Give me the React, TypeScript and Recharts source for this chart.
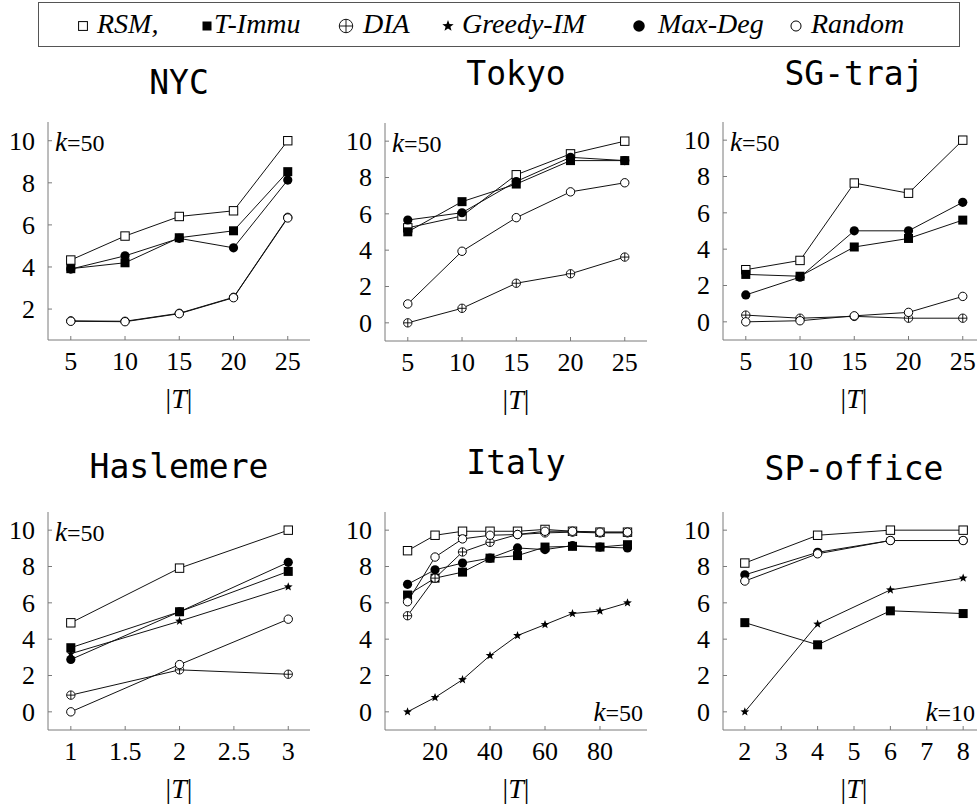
import React from "react";
import { LineChart, Line, XAxis, YAxis } from "recharts";

// ---- data ----
const nycT = [5, 10, 15, 20, 25];
const nycRSM = [4.33, 5.47, 6.4, 6.67, 10.0];
const nycTImmu = [3.92, 4.2, 5.39, 5.72, 8.53];
const nycDIA = [1.44, 1.42, 1.8, 2.56, 6.36];
const nycMaxDeg = [3.9, 4.53, 5.36, 4.91, 8.13];
const nycRandom = [1.42, 1.4, 1.78, 2.54, 6.33];

const tokyoT = [5, 10, 15, 20, 25];
const tokyoRSM = [5.23, 5.88, 8.15, 9.3, 10.0];
const tokyoTImmu = [5.01, 6.67, 7.64, 8.93, 8.93];
const tokyoDIA = [0, 0.8, 2.18, 2.7, 3.62];
const tokyoMaxDeg = [5.66, 6.06, 7.78, 9.11, 8.93];
const tokyoRandom = [1.04, 3.94, 5.79, 7.21, 7.71];

const sgT = [5, 10, 15, 20, 25];
const sgRSM = [2.87, 3.38, 7.64, 7.08, 10.0];
const sgTImmu = [2.61, 2.51, 4.12, 4.59, 5.6];
const sgDIA = [0.37, 0.2, 0.3, 0.2, 0.2];
const sgMaxDeg = [1.48, 2.46, 5.01, 5.01, 6.58];
const sgRandom = [0, 0.06, 0.33, 0.52, 1.4];

const hasT = [1, 2, 3];
const hasRSM = [4.9, 7.91, 10.0];
const hasTImmu = [3.53, 5.51, 7.73];
const hasDIA = [0.92, 2.31, 2.07];
const hasGreedy = [3.2, 4.99, 6.88];
const hasMaxDeg = [2.88, 5.51, 8.23];
const hasRandom = [0, 2.6, 5.1];

const itT = [10, 20, 30, 40, 50, 60, 70, 80, 90];
const itRSM = [8.87, 9.72, 9.94, 9.94, 9.94, 10.04, 9.94, 9.89, 9.89];
const itTImmu = [6.43, 7.36, 7.69, 8.46, 8.6, 9.07, 9.11, 9.07, 9.2];
const itDIA = [5.29, 7.36, 8.8, 9.33, 9.76, 9.85, 9.89, 9.85, 9.85];
const itGreedy = [0, 0.79, 1.77, 3.1, 4.2, 4.8, 5.41, 5.55, 6.0];
const itMaxDeg = [7.02, 7.82, 8.19, 8.46, 9.02, 8.93, 9.15, 9.07, 9.02];
const itRandom = [6.06, 8.52, 9.52, 9.72, 9.76, 9.94, 9.94, 9.89, 9.89];

const spT = [2, 4, 6, 8];
const spRSM = [8.19, 9.72, 10.0, 10.0];
const spTImmu = [4.91, 3.69, 5.56, 5.41];
const spGreedy = [0, 4.83, 6.71, 7.36];
const spMaxDeg = [7.54, 8.78, 9.43, 9.43];
const spRandom = [7.2, 8.7, 9.43, 9.43];

const xTicksA = [5, 10, 15, 20, 25];
const xTicksHas = [1, 1.5, 2, 2.5, 3];
const xTicksIt = [20, 40, 60, 80];
const xTicksSp = [2, 3, 4, 5, 6, 7, 8];
const yTicksNyc = [2, 4, 6, 8, 10];
const yTicks = [0, 2, 4, 6, 8, 10];

const legendNames = ["RSM,", "T-Immu", "DIA", "Greedy-IM", "Max-Deg", "Random"];

type Kind = "rsm" | "timmu" | "dia" | "greedy" | "maxdeg" | "random";
const kinds: Kind[] = ["rsm", "timmu", "dia", "greedy", "maxdeg", "random"];

const SERIF = "'Liberation Serif', serif";
const AXIS = "#7a7a7a";

function starPath(cx: number, cy: number, r: number) {
  const pts: string[] = [];
  for (let i = 0; i < 10; i++) {
    const rr = i % 2 === 0 ? r : r * 0.42;
    const a = -Math.PI / 2 + (i * Math.PI) / 5;
    pts.push(`${cx + rr * Math.cos(a)},${cy + rr * Math.sin(a)}`);
  }
  return "M" + pts.join("L") + "Z";
}

function Marker({ kind, cx, cy, s = 1 }: { kind: Kind; cx: number; cy: number; s?: number }) {
  if (cx == null || cy == null) return null;
  switch (kind) {
    case "rsm":
      return <rect x={cx - 4.2 * s} y={cy - 4.2 * s} width={8.4 * s} height={8.4 * s} fill="#fff" stroke="#000" strokeWidth={1} />;
    case "timmu":
      return <rect x={cx - 4.5 * s} y={cy - 4.5 * s} width={9 * s} height={9 * s} fill="#000" />;
    case "dia":
      return (
        <g>
          <circle cx={cx} cy={cy} r={4.2 * s} fill="#fff" stroke="#000" strokeWidth={0.9} />
          <line x1={cx - 4.2 * s} x2={cx + 4.2 * s} y1={cy} y2={cy} stroke="#000" strokeWidth={0.9} />
          <line x1={cx} x2={cx} y1={cy - 4.2 * s} y2={cy + 4.2 * s} stroke="#000" strokeWidth={0.9} />
        </g>
      );
    case "greedy":
      return <path d={starPath(cx, cy, 4.6 * s)} fill="#000" />;
    case "maxdeg":
      return <circle cx={cx} cy={cy} r={4.6 * s} fill="#000" />;
    default:
      return <circle cx={cx} cy={cy} r={4.2 * s} fill="#fff" stroke="#000" strokeWidth={1} />;
  }
}

function XTick(props: any) {
  const { x, y, payload } = props;
  return (
    <text x={x} y={y} dy="0.72em" textAnchor="middle" fill="#000" style={{ fontFamily: SERIF, fontSize: 26 }}>
      {payload.value}
    </text>
  );
}

function YTick(props: any) {
  const { x, y, payload } = props;
  return (
    <text x={x} y={y} dy="0.34em" textAnchor="end" fill="#000" style={{ fontFamily: SERIF, fontSize: 26 }}>
      {payload.value}
    </text>
  );
}

type PanelProps = {
  title: string;
  titleTop: number;
  plotLeft: number;
  plotTop: number;
  xs: number[];
  values: (number[] | null)[];
  xDomain: [number, number];
  xTicks: number[];
  yDomain: [number, number];
  yTicks: number[];
  kText: string;
  kCorner: "tl" | "br";
  kRight?: number;
};

const PW = 262;
const PH = 218;
const ML = 60;
const MT = 10;
const MR = 20;
const XH = 50;

function Panel(p: PanelProps) {
  const rows = p.xs.map((t, i) => {
    const r: Record<string, number> = { t };
    kinds.forEach((k, j) => {
      const v = p.values[j];
      if (v) r[k] = v[i];
    });
    return r;
  });
  const noLabel = () => <g />;
  const kRight = p.kRight ?? p.plotLeft + PW - 4;
  return (
    <>
      <div
        style={{
          position: "absolute",
          left: p.plotLeft - 60,
          width: PW + 120,
          top: p.titleTop,
          textAlign: "center",
          fontFamily: "'DejaVu Sans Mono', monospace",
          fontSize: 33,
          lineHeight: "33px",
          color: "#000",
        }}
      >
        {p.title}
      </div>
      <div style={{ position: "absolute", left: p.plotLeft - ML, top: p.plotTop - MT }}>
        <LineChart
          width={ML + PW + MR}
          height={MT + PH + XH}
          data={rows}
          margin={{ top: MT, right: MR, left: 0, bottom: 0 }}
        >
          <XAxis
            xAxisId="b"
            dataKey="t"
            type="number"
            domain={p.xDomain}
            ticks={p.xTicks}
            allowDataOverflow
            height={XH}
            stroke={AXIS}
            tickSize={-4}
            tickMargin={15}
            tick={<XTick />}
            interval={0}
          />
          <XAxis
            xAxisId="top"
            dataKey="t"
            type="number"
            orientation="top"
            domain={p.xDomain}
            ticks={p.xTicks}
            allowDataOverflow
            height={0}
            stroke={AXIS}
            tickSize={-4}
            tick={noLabel}
            interval={0}
          />
          <YAxis
            yAxisId="l"
            type="number"
            domain={p.yDomain}
            ticks={p.yTicks}
            allowDataOverflow
            width={ML}
            stroke={AXIS}
            tickSize={-4}
            tickMargin={17}
            tick={<YTick />}
            interval={0}
          />
          <YAxis
            yAxisId="r"
            type="number"
            orientation="right"
            domain={p.yDomain}
            ticks={p.yTicks}
            allowDataOverflow
            width={0}
            stroke={AXIS}
            tickSize={-4}
            tick={noLabel}
            interval={0}
          />
          {kinds.map((k, j) =>
            p.values[j] ? (
              <Line
                key={k}
                xAxisId="b"
                yAxisId="l"
                dataKey={k}
                stroke="#111"
                strokeWidth={1}
                isAnimationActive={false}
                dot={(d: any) => (
                  <g key={`${k}-${d.index}`}>
                    <Marker kind={k} cx={d.cx} cy={d.cy} />
                  </g>
                )}
                activeDot={false}
              />
            ) : null
          )}
        </LineChart>
      </div>
      <div
        style={{
          position: "absolute",
          left: p.plotLeft,
          width: PW,
          top: p.plotTop + PH + 44,
          textAlign: "center",
          fontFamily: SERIF,
          fontSize: 28,
          lineHeight: "30px",
        }}
      >
        |<i>T</i>|
      </div>
      <div
        style={{
          position: "absolute",
          fontFamily: SERIF,
          fontSize: 24,
          lineHeight: "24px",
          whiteSpace: "nowrap",
          ...(p.kCorner === "tl"
            ? { left: p.plotLeft + 7, top: p.plotTop + 8 }
            : { left: kRight - 66, width: 66, textAlign: "right" as const, top: p.plotTop + PH - 30 }),
        }}
      >
        <i style={{ fontSize: 27 }}>k</i>={p.kText}
      </div>
    </>
  );
}

function Legend() {
  const items = [
    { k: "rsm" as Kind, mx: 82, tx: 96, s: 1.05 },
    { k: "timmu" as Kind, mx: 206, tx: 213, s: 1.0 },
    { k: "dia" as Kind, mx: 345, tx: 362, s: 1.6 },
    { k: "greedy" as Kind, mx: 447, tx: 461, s: 1.3 },
    { k: "maxdeg" as Kind, mx: 638, tx: 657, s: 1.25 },
    { k: "random" as Kind, mx: 795, tx: 810, s: 1.2 },
  ];
  return (
    <div
      style={{
        position: "absolute",
        left: 38,
        top: 2,
        width: 920,
        height: 43,
        border: "1.5px solid #555",
      }}
    >
      <svg width={920} height={43} style={{ position: "absolute", left: 0, top: 0 }}>
        {items.map((it) => (
          <Marker key={it.k} kind={it.k} cx={it.mx - 38} cy={23} s={it.s} />
        ))}
      </svg>
      {items.map((it, i) => (
        <span
          key={it.k}
          style={{
            position: "absolute",
            left: it.tx - 38,
            top: 5,
            fontFamily: SERIF,
            fontStyle: "italic",
            fontSize: 28,
            lineHeight: "32px",
            whiteSpace: "nowrap",
          }}
        >
          {legendNames[i]}
        </span>
      ))}
    </div>
  );
}

export default function App() {
  return (
    <div style={{ position: "relative", width: 977, height: 809, overflow: "hidden", background: "#fff" }}>
      <style>{`body{margin:0;overflow:hidden;background:#fff}`}</style>
      <Legend />
      <Panel
        title="NYC"
        titleTop={66}
        plotLeft={48}
        plotTop={122}
        xs={nycT}
        values={[nycRSM, nycTImmu, nycDIA, null, nycMaxDeg, nycRandom]}
        xDomain={[2.9, 27.05]}
        xTicks={xTicksA}
        yDomain={[0.53, 10.89]}
        yTicks={yTicksNyc}
        kText="50"
        kCorner="tl"
      />
      <Panel
        title="Tokyo"
        titleTop={57}
        plotLeft={385}
        plotTop={123}
        xs={tokyoT}
        values={[tokyoRSM, tokyoTImmu, tokyoDIA, null, tokyoMaxDeg, tokyoRandom]}
        xDomain={[2.9, 27.05]}
        xTicks={xTicksA}
        yDomain={[-1, 11]}
        yTicks={yTicks}
        kText="50"
        kCorner="tl"
      />
      <Panel
        title="SG-traj"
        titleTop={57}
        plotLeft={723}
        plotTop={122}
        xs={sgT}
        values={[sgRSM, sgTImmu, sgDIA, null, sgMaxDeg, sgRandom]}
        xDomain={[2.9, 27.05]}
        xTicks={xTicksA}
        yDomain={[-1, 11]}
        yTicks={yTicks}
        kText="50"
        kCorner="tl"
      />
      <Panel
        title="Haslemere"
        titleTop={450}
        plotLeft={48}
        plotTop={512}
        xs={hasT}
        values={[hasRSM, hasTImmu, hasDIA, hasGreedy, hasMaxDeg, hasRandom]}
        xDomain={[0.79, 3.2]}
        xTicks={xTicksHas}
        yDomain={[-1, 11]}
        yTicks={yTicks}
        kText="50"
        kCorner="tl"
      />
      <Panel
        title="Italy"
        titleTop={446}
        plotLeft={385}
        plotTop={512}
        xs={itT}
        values={[itRSM, itTImmu, itDIA, itGreedy, itMaxDeg, itRandom]}
        xDomain={[1.8, 97.1]}
        xTicks={xTicksIt}
        yDomain={[-1, 11]}
        yTicks={yTicks}
        kText="50"
        kCorner="br"
      />
      <Panel
        title="SP-office"
        titleTop={452}
        plotLeft={723}
        plotTop={512}
        xs={spT}
        values={[spRSM, spTImmu, null, spGreedy, spMaxDeg, spRandom]}
        xDomain={[1.4, 8.6]}
        xTicks={xTicksSp}
        yDomain={[-1, 11]}
        yTicks={yTicks}
        kText="10"
        kCorner="br"
        kRight={975}
      />
    </div>
  );
}
